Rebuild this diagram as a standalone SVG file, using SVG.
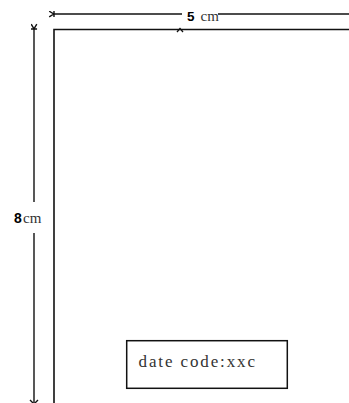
<svg xmlns="http://www.w3.org/2000/svg" width="349" height="403" viewBox="0 0 349 403">
<style>
.ln{stroke:#111;stroke-width:1.6;fill:none}
.dim{stroke:#111;stroke-width:1.4;fill:none}
.num{font-family:"Liberation Sans",Arial,sans-serif;font-weight:bold;fill:#000}
.unit{font-family:"Liberation Serif","Times New Roman",serif;fill:#333}
</style>
<defs>
<marker id="ah" viewBox="0 0 8 8" refX="1" refY="4" markerWidth="7" markerHeight="7" orient="auto-start-reverse" markerUnits="userSpaceOnUse">
<path d="M6.5,0.8 L1.2,4 L6.5,7.2 M1,0.5 L1,7.5" stroke="#111" stroke-width="1.6" fill="none"/>
</marker>
</defs>
<rect width="349" height="403" fill="#fff"/>
<g id="connectors">
<line class="dim" x1="54" y1="14" x2="182" y2="14" marker-start="url(#ah)"/>
<line class="dim" x1="218" y1="14" x2="349" y2="14"/>
<line class="dim" x1="34" y1="29" x2="34" y2="202" marker-start="url(#ah)"/>
<line class="dim" x1="34" y1="233" x2="34" y2="403"/>
<path class="dim" d="M30,400 L34,404 L38,400"/>
</g>
<g id="outline">
<path class="ln" d="M54,403 L54,29.5 L349,29.5"/>
<path d="M177,32 L180,28.5 L183,32" stroke="#111" stroke-width="1.3" fill="none"/>
</g>
<g id="width-label">
<text class="num" x="187" y="21" font-size="13.5">5</text>
<text class="unit" x="200.5" y="21" font-size="15">cm</text>
</g>
<g id="height-label">
<text class="num" x="14" y="223" font-size="14">8</text>
<text class="unit" x="23" y="223" font-size="15">cm</text>
</g>
<g id="date-code">
<rect x="126.7" y="340.7" width="160.6" height="47.6" fill="#fff" stroke="#111" stroke-width="1.5"/>
<text x="138.5" y="366.5" font-family="Liberation Serif,'Times New Roman',serif" font-size="17" fill="#333" textLength="116.5" lengthAdjust="spacing">date code:xxc</text>
</g>
</svg>
